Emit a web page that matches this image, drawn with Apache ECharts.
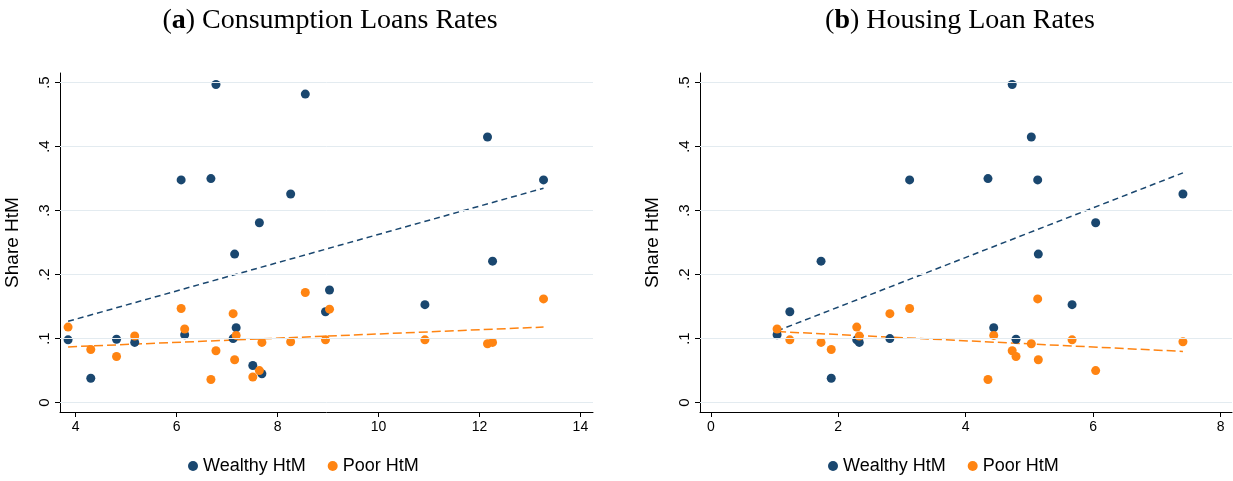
<!DOCTYPE html>
<html><head><meta charset="utf-8">
<script src="https://cdn.jsdelivr.net/npm/echarts@6/dist/echarts.min.js"></script>
<style>html,body{margin:0;background:#fff}#c{width:1233px;height:481px}</style>
</head><body><div id="c"></div>
<script>
// ---- Data ----
const consRate = [3.85,4.30,4.81,5.17,6.09,6.16,6.68,6.78,7.12,7.15,7.18,7.51,7.64,7.69,8.26,8.55,8.95,9.03,10.92,12.16,12.26,13.27];
const consWealthy = [.098,.038,.099,.094,.348,.106,.35,.497,.10,.232,.117,.058,.281,.045,.326,.482,.142,.176,.153,.415,.221,.348];
const consPoor = [.118,.083,.072,.104,.147,.115,.036,.081,.139,.067,.105,.040,.050,.094,.095,.172,.098,.146,.098,.092,.094,.162];
const consFitX = [3.85, 13.27];
const consFitWealthy = [.127, .335];
const consFitPoor = [.087, .118];

const houseRate = [1.04,1.24,1.73,1.89,2.29,2.33,2.81,3.12,4.35,4.44,4.73,4.79,5.03,5.13,5.14,5.67,6.04,7.41];
const houseWealthy = [.106,.142,.221,.038,.098,.094,.100,.348,.35,.117,.497,.099,.415,.348,.232,.153,.281,.326];
const housePoor = [.115,.098,.094,.083,.118,.104,.139,.147,.036,.105,.081,.072,.092,.162,.067,.098,.050,.095];
const houseFitX = [1.04, 7.41];
const houseFitWealthy = [.112, .359];
const houseFitPoor = [.111, .080];

const consTicks = [4, 6, 8, 10, 12, 14];
const houseTicks = [0, 2, 4, 6, 8];
const yTicks = [0, 0.1, 0.2, 0.3, 0.4, 0.5];

const NAVY = "#1a476f", ORANGE = "#ff8412";
const FONT = "Liberation Sans";
const zip = (a, b) => a.map((v, i) => [v, b[i]]);

function xAxis(idx, min, max, ticks) {
    return {
        type: "value", gridIndex: idx, min, max,
        axisLine: { show: true, onZero: false, lineStyle: { color: "#000", width: 1 } },
        axisTick: { show: true, length: 5, customValues: ticks, lineStyle: { color: "#000" } },
        axisLabel: { customValues: ticks, color: "#000", fontFamily: FONT, fontSize: 14, margin: 8,
            formatter: v => String(v) },
        splitLine: { show: false }
    };
}
function yAxis(idx) {
    return {
        type: "value", gridIndex: idx, min: -0.0147, max: 0.515,
        name: "Share HtM", nameLocation: "middle", nameGap: 38, nameRotate: 90,
        nameTextStyle: { color: "#000", fontFamily: FONT, fontSize: 19 },
        axisLine: { show: true, onZero: false, lineStyle: { color: "#000", width: 1 } },
        axisTick: { show: true, length: 5, customValues: yTicks, lineStyle: { color: "#000" } },
        axisLabel: { customValues: yTicks, rotate: 90, color: "#000", fontFamily: FONT, fontSize: 15, margin: 8,
            formatter: v => v === 0 ? "0" : String(+v.toFixed(1)).replace(/^0/, "") },
        splitLine: { show: false }
    };
}
function gridLines(idx) {
    return {
        type: "line", xAxisIndex: idx, yAxisIndex: idx, data: [], silent: true,
        markLine: { silent: true, symbol: "none", label: { show: false },
            lineStyle: { color: "#e3ebf0", type: "solid", width: 1 },
            data: yTicks.map(v => ({ yAxis: v })) }
    };
}
function dots(idx, name, xs, ys, color) {
    return { type: "scatter", name, xAxisIndex: idx, yAxisIndex: idx, data: zip(xs, ys),
        symbolSize: 9, itemStyle: { color, opacity: 1 }, z: 3 };
}
function fit(idx, xs, ys, color, dash) {
    return { type: "line", xAxisIndex: idx, yAxisIndex: idx, data: zip(xs, ys), symbol: "none",
        lineStyle: { color, width: 1.5, type: dash }, z: 2 };
}
function legend(center) {
    return { left: center, top: 452, itemWidth: 10, itemHeight: 10, itemGap: 22, icon: "circle",
        data: ["Wealthy HtM", "Poor HtM"],
        itemStyle: { opacity: 1 },
        textStyle: { fontFamily: FONT, fontSize: 18, color: "#000" } };
}
const titleRich = { b: { fontWeight: "bold", fontFamily: "Liberation Serif", fontSize: 28, color: "#000" },
    n: { fontWeight: "normal", fontFamily: "Liberation Serif", fontSize: 28, color: "#000" } };

const chart = echarts.init(document.getElementById("c"));
chart.setOption({
    animation: false,
    backgroundColor: "#fff",
    title: [
        { text: "{n|(}{b|a}{n|) Consumption Loans Rates}", left: 325, top: 2, textAlign: "center",
          textStyle: { fontWeight: "normal", rich: titleRich } },
        { text: "{n|(}{b|b}{n|) Housing Loan Rates}", left: 955, top: 2, textAlign: "center",
          textStyle: { fontWeight: "normal", rich: titleRich } }
    ],
    legend: [legend(183), legend(823)],
    grid: [
        { left: 60, right: 640, top: 73, bottom: 69 },
        { left: 700, right: 1, top: 73, bottom: 69 }
    ],
    xAxis: [xAxis(0, 3.69, 14.25, consTicks), xAxis(1, -0.17, 8.18, houseTicks)],
    yAxis: [yAxis(0), yAxis(1)],
    series: [
        gridLines(0), gridLines(1),
        fit(0, consFitX, consFitWealthy, NAVY, [6, 4]),
        fit(0, consFitX, consFitPoor, ORANGE, [9, 4]),
        fit(1, houseFitX, houseFitWealthy, NAVY, [6, 4]),
        fit(1, houseFitX, houseFitPoor, ORANGE, [9, 4]),
        dots(0, "Wealthy HtM", consRate, consWealthy, NAVY),
        dots(0, "Poor HtM", consRate, consPoor, ORANGE),
        dots(1, "Wealthy HtM", houseRate, houseWealthy, NAVY),
        dots(1, "Poor HtM", houseRate, housePoor, ORANGE)
    ]
});
</script></body></html>
